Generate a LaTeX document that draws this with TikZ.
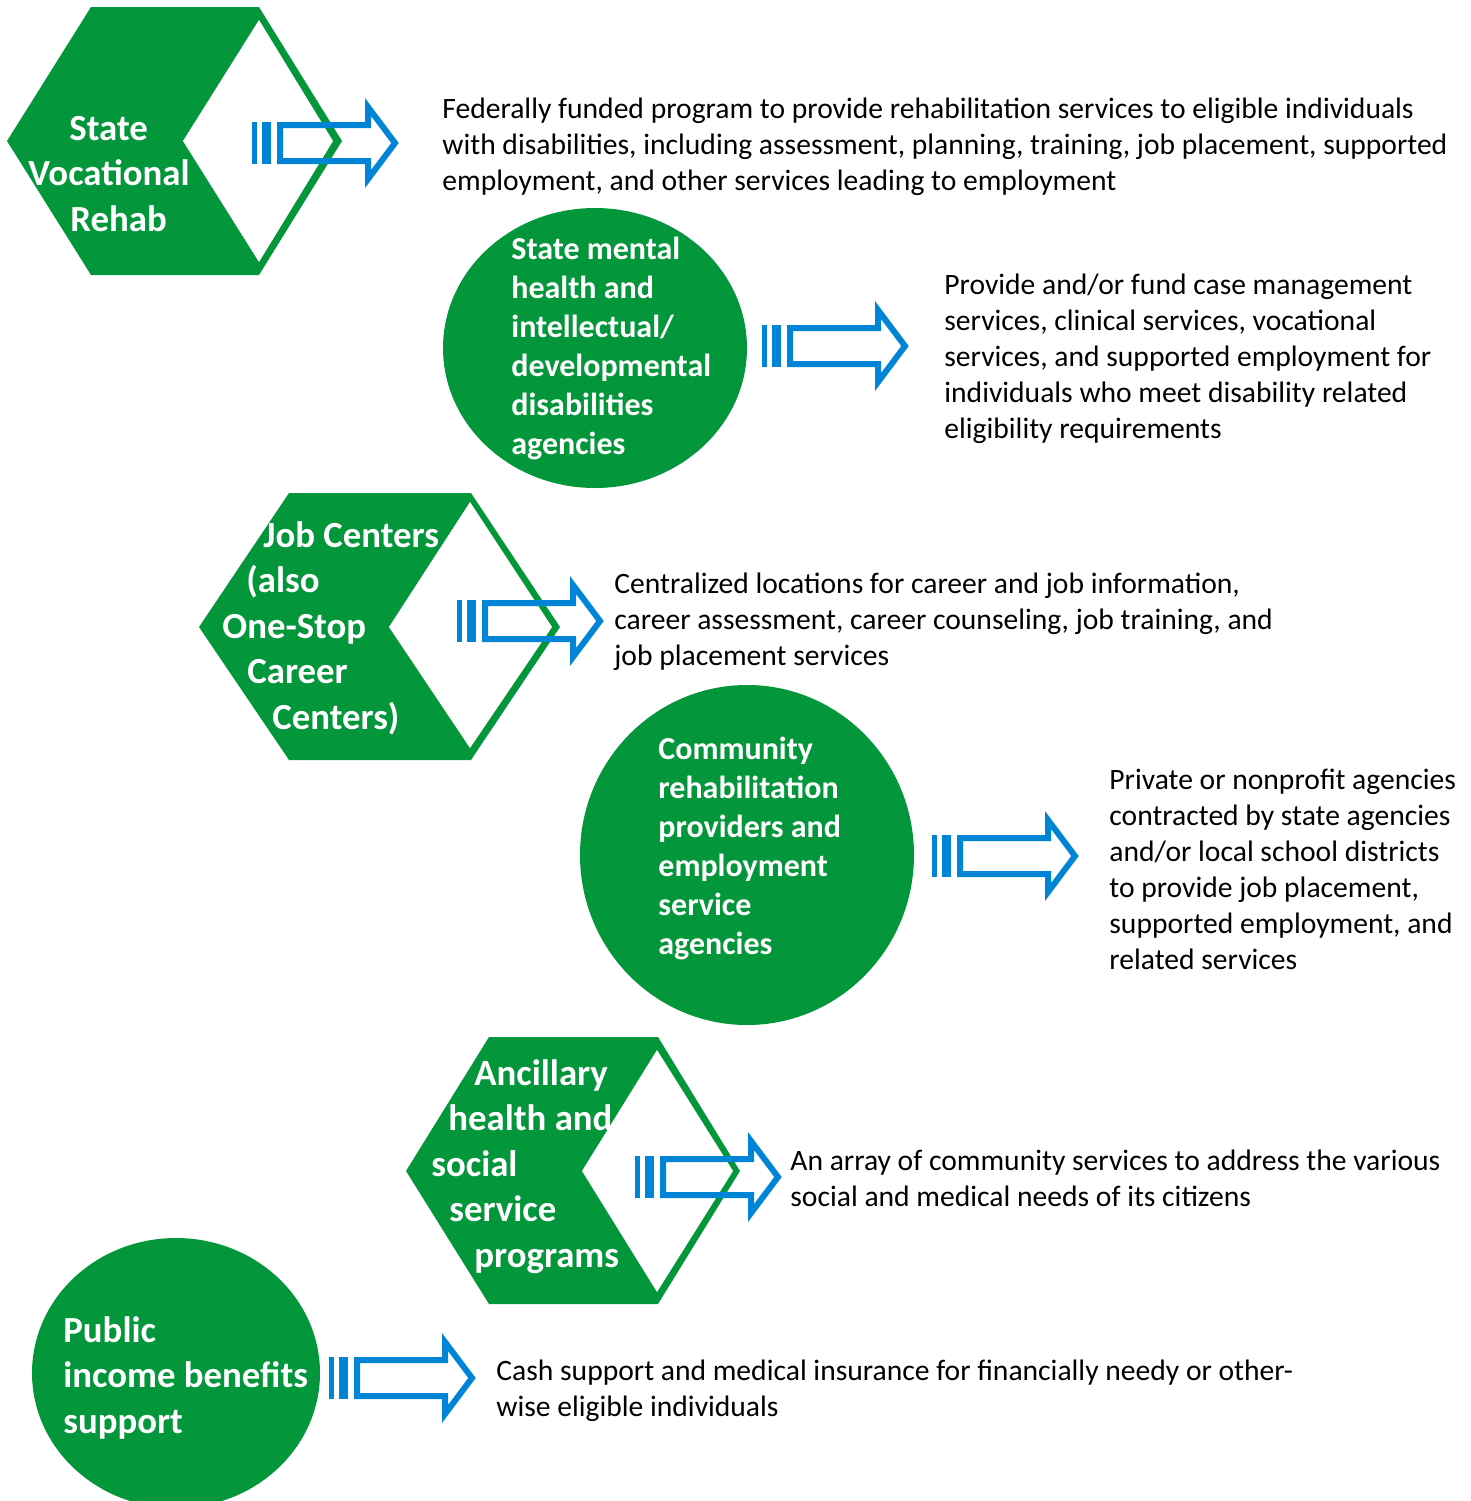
\documentclass[tikz,border=0pt]{standalone}
\usepackage{fontspec}
\setmainfont{Carlito}
\definecolor{hgreen}{RGB}{3,150,58}
\definecolor{ablue}{RGB}{0,132,214}
\tikzset{
  body/.style={anchor=north west, inner sep=0pt, align=left, text=black,
    font=\fontsize{14.8pt}{18pt}\selectfont},
  hexlabel/.style={anchor=north west, inner sep=0pt, align=left, text=white,
    font=\fontsize{18.4pt}{22.75pt}\selectfont\bfseries},
  circlabel/.style={anchor=north west, inner sep=0pt, align=left, text=white,
    font=\fontsize{16pt}{19.5pt}\selectfont\bfseries},
  greenshape/.style={fill=hgreen, draw=none},
  hole/.style={fill=white, draw=none},
  blockarrow/.pic={
    \fill[ablue] (0,-21) rectangle (5,21);
    \fill[ablue] (10,-21) rectangle (19,21);
    \draw[ablue, line width=3pt, miter limit=10]
      (28,-18) -- (116,-18) -- (116,-36) -- (143,0) -- (116,36) -- (116,18) -- (28,18) -- cycle;
  }
}
\begin{document}
\begin{tikzpicture}[x=0.5pt,y=-0.5pt]
\useasboundingbox (0,0) rectangle (1471,1501);
\clip (0,0) rectangle (1471,1501);

% ---- State Vocational Rehab hexagon
\fill[greenshape] (7,141) -- (91,7) -- (259,7) -- (342,141) -- (259,275) -- (91,275) -- cycle;
\node[hexlabel] (svr) at (28,108) {\strut\hspace*{20.5pt}State\\Vocational\\\hspace*{21pt}Rehab};
\fill[hole] (183,141) -- (259,20) -- (333,141) -- (259,262) -- cycle;
\pic at (252,143) {blockarrow};
\node[body] (svrtext) at (442,93) {\strut Federally funded program to provide rehabilitation services to eligible individuals\\with disabilities, including assessment, planning, training, job placement, supported\\employment, and other services leading to employment};

% ---- State mental health circle
\fill[greenshape] (595,348) ellipse [x radius=152, y radius=140];
\node[circlabel] (smh) at (511,232) {\strut State mental\\health and\\intellectual/\\developmental\\disabilities\\agencies};
\pic at (762,346) {blockarrow};
\node[body] (smhtext) at (944,269) {\strut Provide and/or fund case management\\services, clinical services, vocational\\services, and supported employment for\\individuals who meet disability related\\eligibility requirements};

% ---- Job Centers hexagon
\fill[greenshape] (199,627) -- (289,493) -- (471,493) -- (560,627) -- (471,760) -- (289,760) -- cycle;
\node[hexlabel] (jc) at (222,515) {\strut\hspace*{20.5pt}Job Centers\\\hspace*{12pt}(also\\One-Stop\\\hspace*{12.5pt}Career\\\hspace*{25pt}Centers)};
\fill[hole] (389,627) -- (470,502) -- (552,627) -- (470,748) -- cycle;
\pic at (457,621) {blockarrow};
\node[body] (jctext) at (614,568) {\strut Centralized locations for career and job information,\\career assessment, career counseling, job training, and\\job placement services};

% ---- Community rehabilitation circle
\fill[greenshape] (747,855) ellipse [x radius=167, y radius=170];
\node[circlabel] (crp) at (658,732) {\strut Community\\rehabilitation\\providers and\\employment\\service\\agencies};
\pic at (932,856) {blockarrow};
\node[body] (crptext) at (1109,764) {\strut Private or nonprofit agencies\\contracted by state agencies\\and/or local school districts\\to provide job placement,\\supported employment, and\\related services};

% ---- Ancillary hexagon
\fill[greenshape] (406,1171) -- (489,1037) -- (658,1037) -- (740,1171) -- (658,1304) -- (489,1304) -- cycle;
\node[hexlabel] (anc) at (431,1053) {\strut\hspace*{21.5pt}Ancillary\\\hspace*{8.5pt}health and\\social\\\hspace*{9pt}service\\\hspace*{21.5pt}programs};
\fill[hole] (582,1171) -- (657,1050) -- (733,1171) -- (657,1292) -- cycle;
\pic at (635,1177) {blockarrow};
\node[body] (anctext) at (790,1145) {\strut An array of community services to address the various\\social and medical needs of its citizens};

% ---- Public income benefits circle
\fill[greenshape] (176,1373) ellipse [x radius=144, y radius=135];
\node[hexlabel] (pib) at (63,1310) {\strut Public\\income benefits\\support};
\pic at (329,1378) {blockarrow};
\node[body] (pibtext) at (496,1355) {\strut Cash support and medical insurance for financially needy or other-\\wise eligible individuals};
\end{tikzpicture}
\end{document}
